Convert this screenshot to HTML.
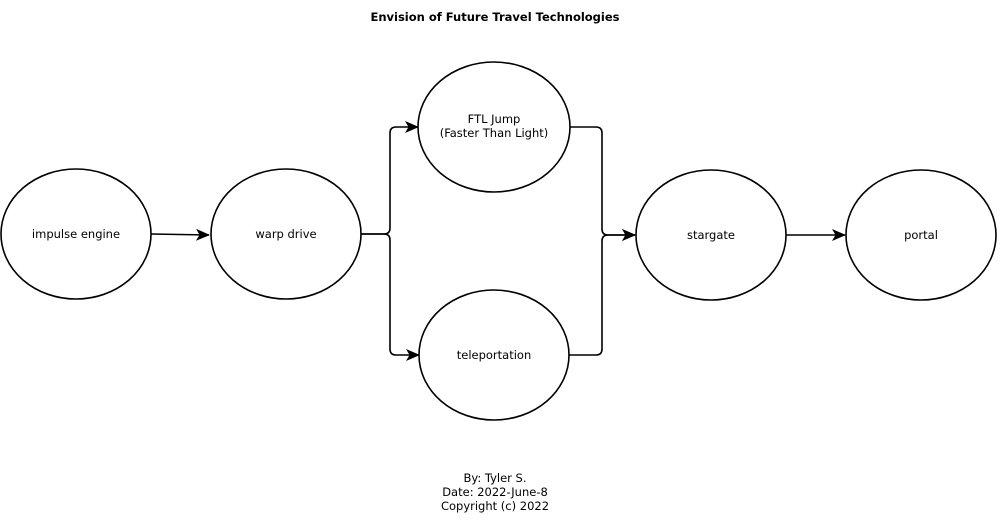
<!DOCTYPE html>
<html><head><style>
html,body{margin:0;padding:0;background:#fff;}
svg{display:block;}
text{font-family:"DejaVu Sans",sans-serif;font-size:11.5px;fill:#000;}
</style></head><body>
<svg width="1000" height="526" viewBox="0 0 1000 526">
<defs><marker id="a" markerWidth="14" markerHeight="12" refX="13" refY="6" orient="auto" markerUnits="userSpaceOnUse"><path d="M0,0 L14,6 L0,12 L3.5,6 Z" fill="#000"/></marker></defs>
<text x="495" y="21" text-anchor="middle" style="font-weight:bold">Envision of Future Travel Technologies</text>
<g fill="#fff" stroke="#000" stroke-width="1.6">
<ellipse cx="76" cy="234" rx="75" ry="65"/>
<ellipse cx="286" cy="234" rx="75" ry="65"/>
<ellipse cx="494" cy="127" rx="76" ry="65"/>
<ellipse cx="494" cy="355" rx="75" ry="65"/>
<ellipse cx="711" cy="235" rx="75" ry="65"/>
<ellipse cx="921" cy="235" rx="75" ry="65"/>
</g>
<g fill="none" stroke="#000" stroke-width="1.6">
<path d="M151,234 L209,235" marker-end="url(#a)"/>
<path d="M361,234 L384,234 Q390,234 390,228 L390,133 Q390,127 396,127 L418,127" marker-end="url(#a)"/>
<path d="M361,234 L384,234 Q390,234 390,240 L390,349 Q390,355 396,355 L419,355" marker-end="url(#a)"/>
<path d="M570,127 L596,127 Q602,127 602,133 L602,229 Q602,235 608,235 L635,235" marker-end="url(#a)"/>
<path d="M569,355 L596,355 Q602,355 602,349 L602,241 Q602,235 608,235 L635,235" marker-end="url(#a)"/>
<path d="M786,235 L845,235" marker-end="url(#a)"/>
</g>
<text x="76" y="238" text-anchor="middle">impulse engine</text>
<text x="286" y="238" text-anchor="middle">warp drive</text>
<text x="494" y="123" text-anchor="middle">FTL Jump</text>
<text x="494" y="137" text-anchor="middle">(Faster Than Light)</text>
<text x="494" y="359" text-anchor="middle">teleportation</text>
<text x="711" y="239" text-anchor="middle">stargate</text>
<text x="921" y="239" text-anchor="middle">portal</text>
<text x="495" y="482" text-anchor="middle">By: Tyler S.</text>
<text x="495" y="496" text-anchor="middle">Date: 2022-June-8</text>
<text x="495" y="510" text-anchor="middle">Copyright (c) 2022</text>
</svg>
</body></html>
